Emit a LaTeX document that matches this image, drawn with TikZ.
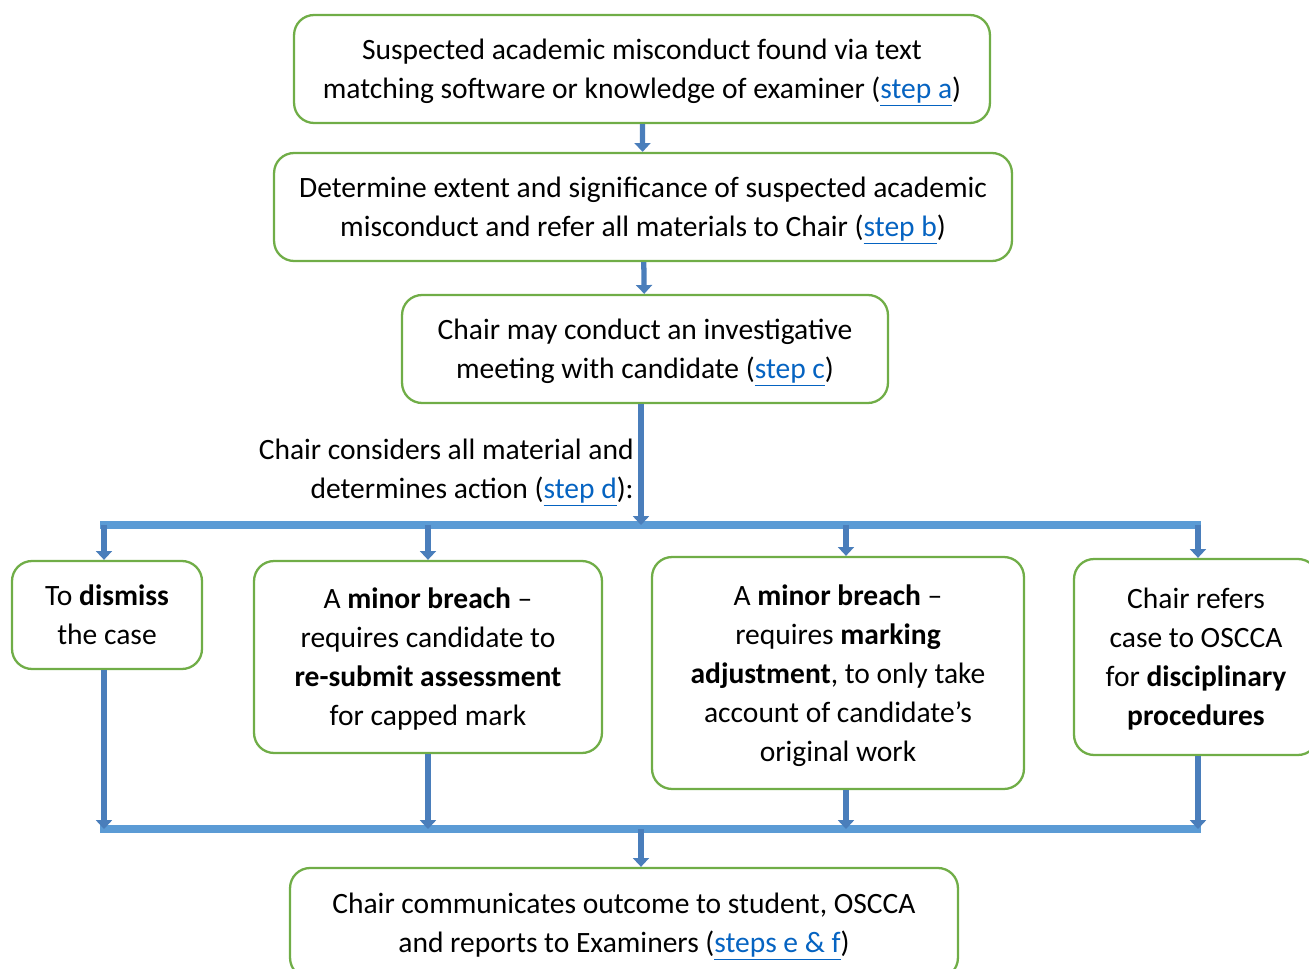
\documentclass[tikz,border=0pt]{standalone}
\usepackage{fontspec}
\setmainfont{Carlito}
\usetikzlibrary{arrows.meta}
\definecolor{boxgreen}{HTML}{70AD47}
\definecolor{barblue}{HTML}{5B9BD5}
\definecolor{arrowblue}{HTML}{4A7EBB}
\definecolor{linkblue}{HTML}{0563C1}
\newcommand{\steplink}[1]{\textcolor{linkblue}{\underline{#1}}}
\newcommand{\ls}{\rule[-0.27em]{0pt}{1.22em}}

\begin{document}
\begin{tikzpicture}[x=0.02cm, y=-0.02cm,
  font=\fontsize{16.8}{22.2}\selectfont,
  stepbox/.style={draw=boxgreen, line width=1.3pt, rounded corners=0.4cm,
    align=center, inner sep=0pt},
  flow/.style={draw=arrowblue, line width=3pt, -{Triangle[width=9pt,length=5pt]}},
  bar/.style={draw=barblue, line width=4pt}]

  \useasboundingbox (0,0) rectangle (1309,969);

  % Top chain
  \node [stepbox, minimum width=13.92cm, minimum height=2.16cm] (found) at (642,69)
    {\ls Suspected academic misconduct found via text\\
     matching software or knowledge of examiner (\steplink{step a})\ls};
  \node [stepbox, minimum width=14.76cm, minimum height=2.16cm] (extent) at (643,207)
    {\ls Determine extent and significance of suspected academic\\
     misconduct and refer all materials to Chair (\steplink{step b})\ls};
  \node [stepbox, minimum width=9.72cm, minimum height=2.16cm] (meeting) at (645,349)
    {\ls Chair may conduct an investigative\\
     meeting with candidate (\steplink{step c})\ls};
  \node [align=right, anchor=east, inner sep=0pt] (consider) at (634,469)
    {\ls Chair considers all material and\\
     determines action (\steplink{step d}):\ls};

  % Split and join bars
  \coordinate (splitL) at (100,525);
  \coordinate (splitR) at (1201,525);
  \coordinate (joinL) at (100,829);
  \coordinate (joinR) at (1201,829);

  % Outcomes
  \node [stepbox, minimum width=3.8cm, minimum height=2.16cm] (dismiss) at (107,615)
    {\ls To \textbf{dismiss}\\ the case\ls};
  \node [stepbox, minimum width=6.96cm, minimum height=3.84cm] (resubmit) at (428,657)
    {\ls A \textbf{minor breach} --\\ requires candidate to\\
     \textbf{re-submit assessment}\\ for capped mark\ls};
  \node [stepbox, minimum width=7.44cm, minimum height=4.64cm] (adjust) at (838,673)
    {\ls A \textbf{minor breach} --\\ requires \textbf{marking}\\
     \textbf{adjustment}, to only take\\ account of candidate’s\\ original work\ls};
  \node [stepbox, minimum width=4.88cm, minimum height=3.92cm] (refer) at (1196,657)
    {\ls Chair refers\\ case to OSCCA\\ for \textbf{disciplinary}\\ \textbf{procedures}\ls};

  \node [stepbox, minimum width=13.36cm, minimum height=2.2cm] (outcome) at (624,923)
    {\ls Chair communicates outcome to student, OSCCA\\
     and reports to Examiners (\steplink{steps e \& f})\ls};

  % Draw bars
  \draw [bar] (splitL) -- (splitR);
  \draw [bar] (joinL) -- (joinR);

  % Draw arrows
  \draw [flow] (found) -- (extent);
  \draw [flow] (extent) -- (meeting);
  \draw [flow] ([xshift=-0.08cm]meeting.south) -- ([xshift=-0.08cm]meeting.south |- splitL);
  \foreach \outc/\dx in {dismiss/-0.06, resubmit/0, adjust/0.16, refer/0.04}{
    \draw [flow] ([xshift=\dx cm]\outc.north |- splitL) -- ([xshift=\dx cm]\outc.north);
    \draw [flow] ([xshift=\dx cm]\outc.south) -- ([xshift=\dx cm]\outc.south |- joinL);
  }
  \draw [flow] ([xshift=0.34cm]outcome.north |- joinL) -- ([xshift=0.34cm]outcome.north);

\end{tikzpicture}
\end{document}
